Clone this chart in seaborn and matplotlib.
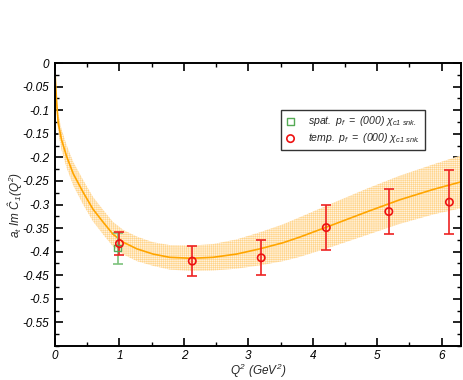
import numpy as np
import pandas as pd
import matplotlib
matplotlib.use("Agg")
import matplotlib.pyplot as plt
import seaborn as sns
from matplotlib.ticker import MultipleLocator

# ---- data ----
q2_temp = [1.00, 2.13, 3.20, 4.21, 5.18, 6.12]
val_temp = [-0.383, -0.420, -0.413, -0.349, -0.315, -0.295]
err_temp = [0.025, 0.031, 0.037, 0.047, 0.047, 0.068]

q2_spat = [0.97]
val_spat = [-0.393]
err_spat = [0.033]

fit_q2 = [0.0, 0.01, 0.026, 0.05, 0.10, 0.18, 0.284, 0.44, 0.59, 0.75, 0.90,
          1.06, 1.27, 1.52, 1.78, 2.12, 2.45, 2.82, 3.18, 3.54, 3.80, 4.31,
          4.83, 5.35, 5.87, 6.30]
fit_val = [-0.02, -0.045, -0.085, -0.127, -0.162, -0.198, -0.235, -0.275,
           -0.310, -0.338, -0.363, -0.380, -0.394, -0.405, -0.412, -0.414,
           -0.412, -0.405, -0.394, -0.381, -0.369, -0.343, -0.316, -0.290,
           -0.268, -0.252]
fit_err = [0.008, 0.012, 0.016, 0.020, 0.022, 0.024, 0.025, 0.026, 0.026,
           0.026, 0.026, 0.026, 0.026, 0.025, 0.026, 0.027, 0.028, 0.031,
           0.035, 0.039, 0.042, 0.046, 0.049, 0.051, 0.053, 0.056]

legend_labels = [r"$spat.\ p_f\ =\ (000)\ \chi_{c1\ snk.}$",
                 r"$temp.\ p_f\ =\ (000)\ \chi_{c1\ snk.}$"]
x_label = r"$Q^2\ (GeV^2)$"
y_label = r"$a_t\ Im\ Ĉ_1(Q^2)$"
x_ticks = [0, 1, 2, 3, 4, 5, 6]
y_ticks = [0, -0.05, -0.1, -0.15, -0.2, -0.25, -0.3, -0.35, -0.4, -0.45,
           -0.5, -0.55]
y_tick_labels = ["0", "-0.05", "-0.1", "-0.15", "-0.2", "-0.25", "-0.3",
                 "-0.35", "-0.4", "-0.45", "-0.5", "-0.55"]

# ---- style ----
sns.set_theme(style="ticks")
plt.rcParams["font.family"] = ["Liberation Sans", "DejaVu Sans"]
plt.rcParams["font.style"] = "italic"
plt.rcParams["mathtext.fontset"] = "custom"
plt.rcParams["mathtext.it"] = "Liberation Sans:italic"
plt.rcParams["mathtext.rm"] = "Liberation Sans:italic"
plt.rcParams["mathtext.sf"] = "Liberation Sans:italic"
plt.rcParams["hatch.linewidth"] = 0.4

fig = plt.figure(figsize=(4.63, 3.80), dpi=100)
ax = fig.add_axes([55 / 463, 34 / 380, 406 / 463, 283 / 380])

fit_df = pd.DataFrame({"q2": fit_q2, "val": fit_val, "err": fit_err})
temp_df = pd.DataFrame({"q2": q2_temp, "val": val_temp, "err": err_temp})
spat_df = pd.DataFrame({"q2": q2_spat, "val": val_spat, "err": err_spat})

ax.fill_between(fit_df["q2"], fit_df["val"] - fit_df["err"],
                fit_df["val"] + fit_df["err"], facecolor="#FFF3DF",
                edgecolor="none", zorder=1)
ax.fill_between(fit_df["q2"], fit_df["val"] - fit_df["err"],
                fit_df["val"] + fit_df["err"], facecolor="none",
                edgecolor="#FFD48A", hatch="++++++++", linewidth=0, zorder=1)
sns.lineplot(data=fit_df, x="q2", y="val", ax=ax, color="#FFA500",
             linewidth=1.2, zorder=2, legend=False)

ax.errorbar(spat_df["q2"], spat_df["val"], yerr=spat_df["err"], fmt="none",
            ecolor="#7CC27C", elinewidth=1.2, capsize=3.5, capthick=1.2,
            zorder=3)
ax.errorbar(temp_df["q2"], temp_df["val"], yerr=temp_df["err"], fmt="none",
            ecolor="#EE2222", elinewidth=1.2, capsize=3.5, capthick=1.2,
            zorder=4)

sns.scatterplot(data=spat_df, x="q2", y="val", ax=ax, marker="s", s=20,
                facecolor="none", edgecolor="#55AA55", linewidth=1.0,
                zorder=5, label=legend_labels[0])
sns.scatterplot(data=temp_df, x="q2", y="val", ax=ax, marker="o", s=28,
                facecolor="none", edgecolor="#EE1111", linewidth=1.2,
                zorder=6, label=legend_labels[1])

ax.set_xlim(0, 6.3)
ax.set_ylim(-0.6, 0)
ax.set_xticks(x_ticks)
ax.set_xticklabels([str(t) for t in x_ticks])
ax.set_yticks(y_ticks)
ax.set_yticklabels(y_tick_labels)
ax.xaxis.set_minor_locator(MultipleLocator(0.5))
ax.yaxis.set_minor_locator(MultipleLocator(0.025))

ax.tick_params(which="both", direction="in", top=True, right=True,
               labelsize=8.5, colors="black", pad=4)
ax.tick_params(axis="x", which="both", pad=3)
ax.tick_params(which="major", length=5.5, width=1.2)
ax.tick_params(which="minor", length=3, width=1.0)
for lab in ax.get_xticklabels() + ax.get_yticklabels():
    lab.set_fontstyle("italic")
for sp in ax.spines.values():
    sp.set_linewidth(1.4)
    sp.set_color("black")

ax.set_xlabel(x_label, fontsize=8.5, labelpad=0)
ax.set_ylabel(y_label, fontsize=8.5, labelpad=-1)

leg = ax.legend(loc="upper left", bbox_to_anchor=(226 / 406, 1 - 47 / 283),
                fontsize=7.6, frameon=True, fancybox=False, borderpad=0.4,
                handlelength=1.0, handletextpad=1.2, labelspacing=0.3,
                borderaxespad=0)
leg.get_frame().set_edgecolor("black")
leg.get_frame().set_linewidth(1.0)

fig.savefig("out.png", dpi=100)
